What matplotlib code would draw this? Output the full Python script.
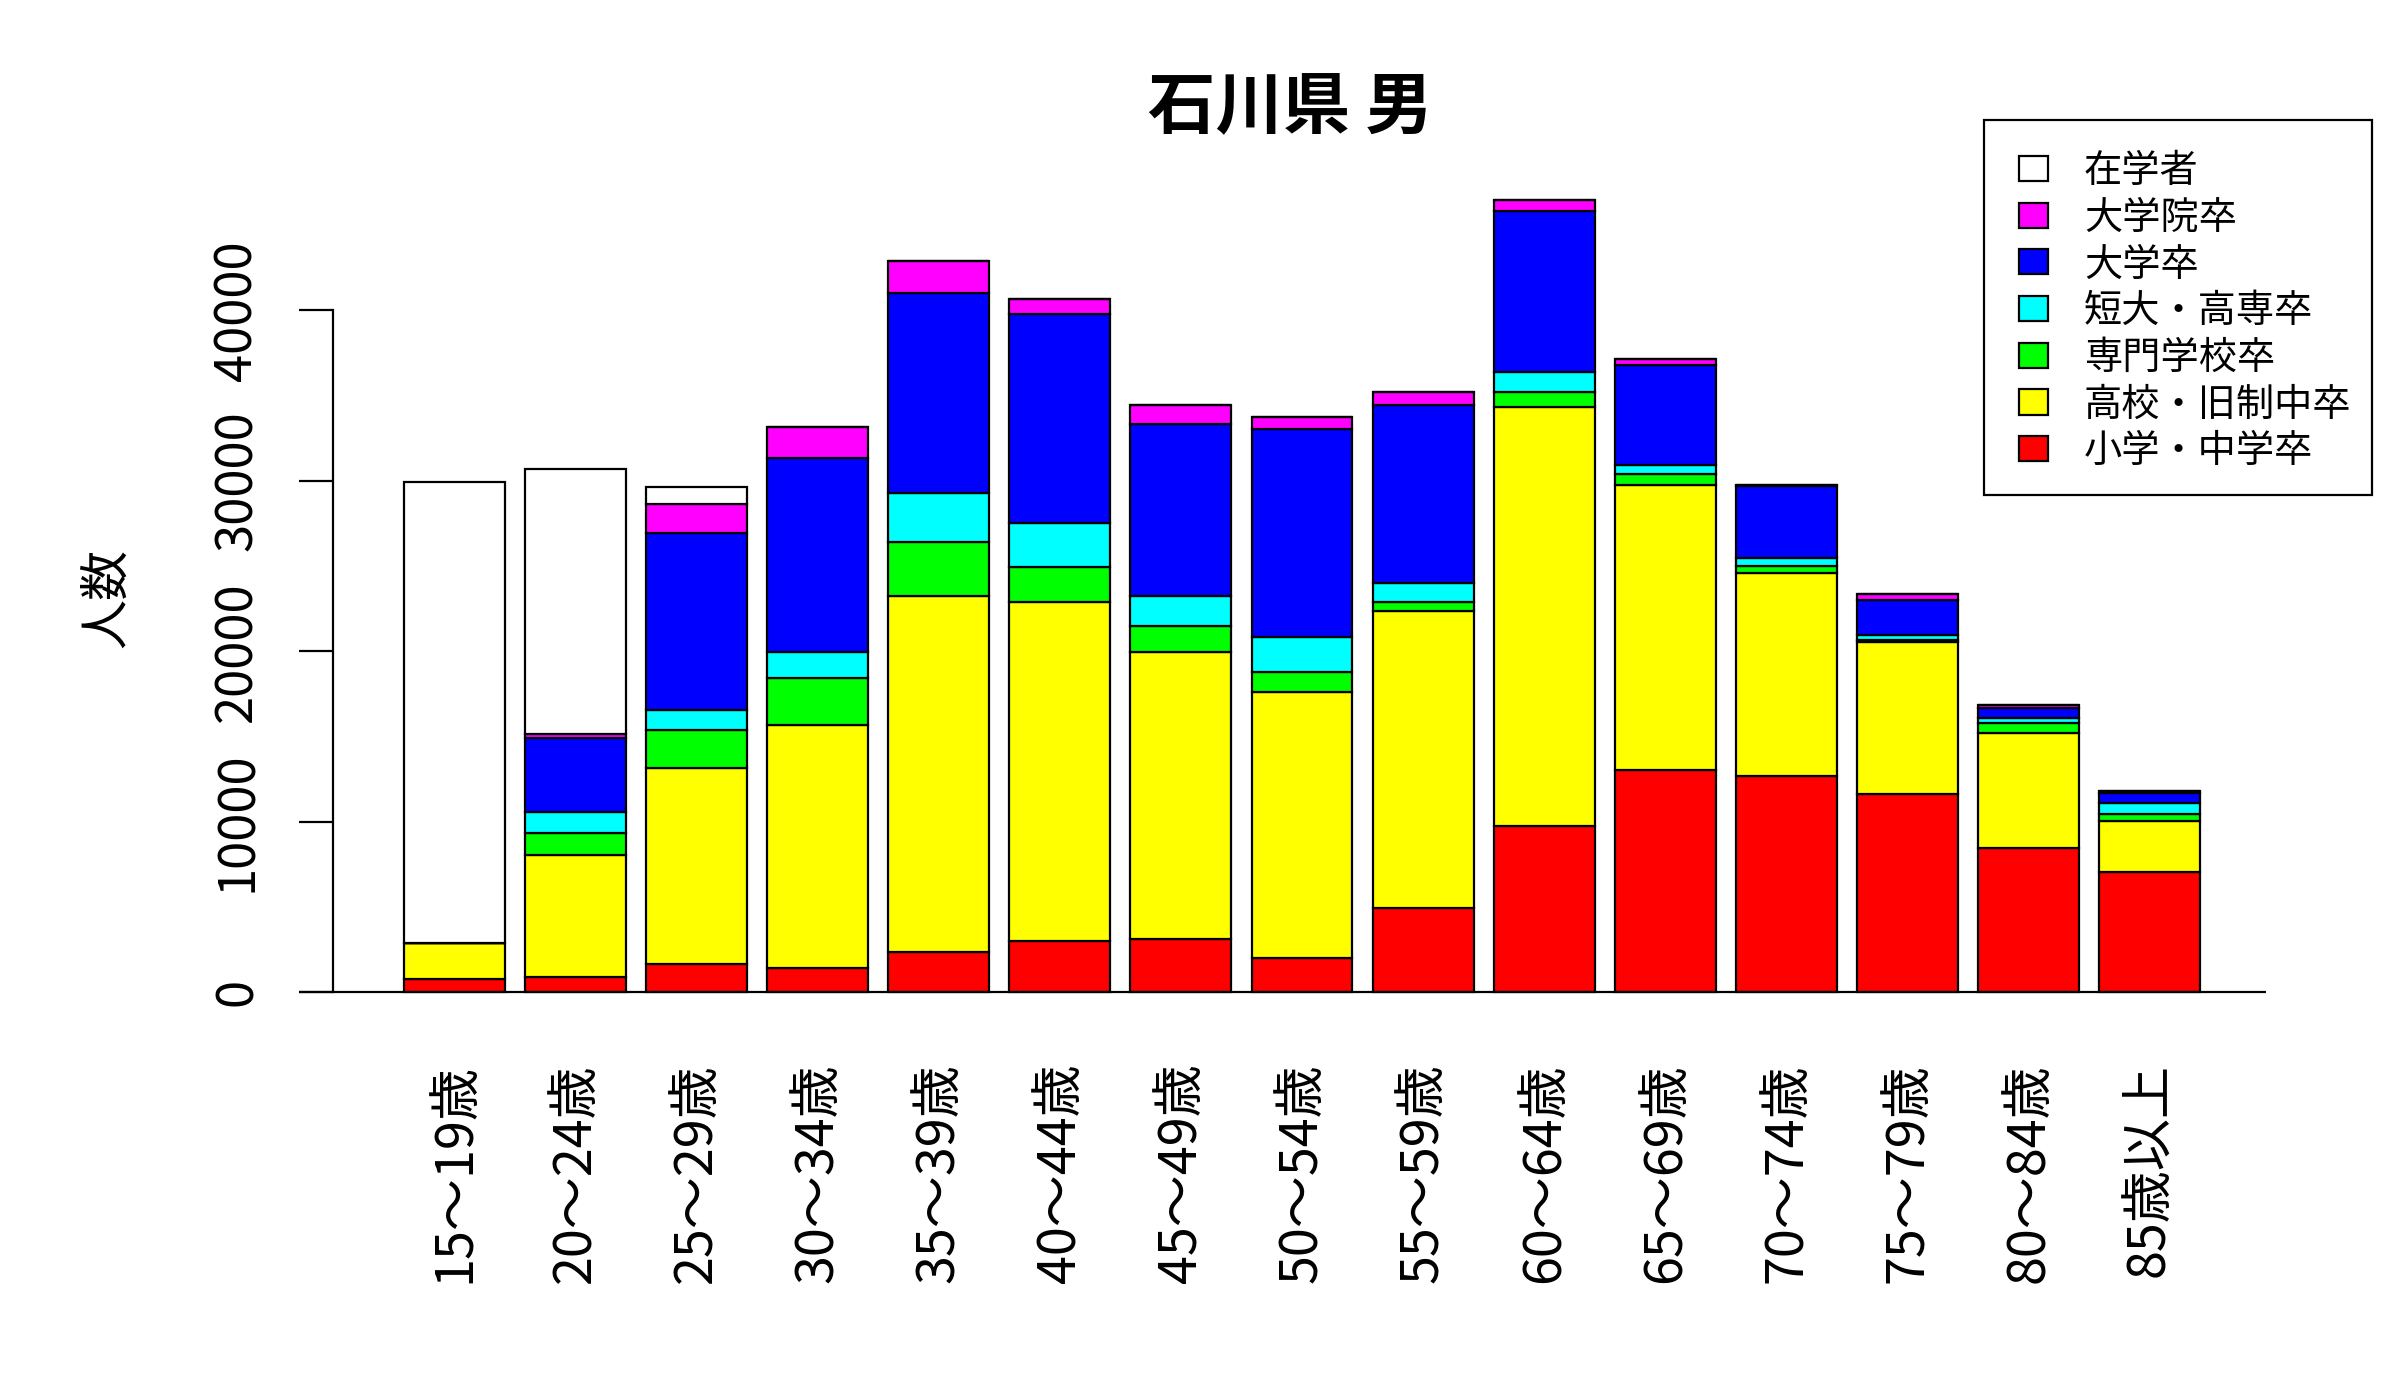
import matplotlib
matplotlib.use("Agg")
import matplotlib.pyplot as plt
from matplotlib.patches import Rectangle
import numpy as np

plt.rcParams['font.family'] = ['Noto Sans CJK JP', 'DejaVu Sans']

ages = ["15～19歳", "20～24歳", "25～29歳", "30～34歳", "35～39歳", "40～44歳",
        "45～49歳", "50～54歳", "55～59歳", "60～64歳", "65～69歳", "70～74歳",
        "75～79歳", "80～84歳", "85歳以上"]

elem_junior = [780, 910, 1660, 1400, 2380, 3000, 3100, 1990, 4920, 9740, 13030, 12710, 11630, 8440, 7070]
high_school = [2120, 7170, 11470, 14300, 20850, 19900, 16870, 15600, 17460, 24570, 16750, 11890, 8930, 6770, 3000]
vocational = [0, 1270, 2280, 2710, 3160, 2020, 1530, 1210, 490, 880, 620, 390, 90, 560, 360]
junior_college = [0, 1210, 1170, 1560, 2870, 2610, 1760, 2020, 1110, 1170, 550, 490, 300, 320, 650]
university = [0, 4330, 10360, 11340, 11760, 12250, 10100, 12220, 10490, 9480, 5830, 4200, 2050, 590, 620]
graduate = [0, 260, 1700, 1820, 1890, 910, 1110, 710, 720, 650, 390, 100, 360, 160, 90]
students = [27040, 15540, 1010, 0, 0, 0, 0, 0, 0, 0, 0, 0, 0, 0, 0]

series_names = ["小学・中学卒", "高校・旧制中卒", "専門学校卒", "短大・高専卒", "大学卒", "大学院卒", "在学者"]
series_vals = [elem_junior, high_school, vocational, junior_college, university, graduate, students]
series_colors = ["#FF0000", "#FFFF00", "#00FF00", "#00FFFF", "#0000FF", "#FF00FF", "#FFFFFF"]

W, H = 2400, 1400
fig = plt.figure(figsize=(24, 14), dpi=100)

# axes placement in pixels
left_px, right_px, top_px, bot_px = 299, 2266, 167, 1024
ax = fig.add_axes([left_px / W, 1 - bot_px / H, (right_px - left_px) / W, (bot_px - top_px) / H])

n = len(ages)
centers = 0.7 + 1.2 * np.arange(n)
bottom = np.zeros(n)
for vals, col in zip(series_vals, series_colors):
    v = np.array(vals, dtype=float)
    ax.bar(centers, v, width=1.0, bottom=bottom, color=col, edgecolor="black",
           linewidth=1.6, zorder=2)
    bottom += v

ax.set_xlim(-0.8406, 18.654)
ax.set_ylim(-1859, 48404)

for s in ["top", "right", "bottom"]:
    ax.spines[s].set_visible(False)
ax.spines["left"].set_position(("data", -0.5037))
ax.spines["left"].set_bounds(0, 40000)
ax.spines["left"].set_linewidth(1.6)
ax.axhline(0, color="black", linewidth=1.6, zorder=3)

ax.set_yticks([0, 10000, 20000, 30000, 40000])
ax.set_yticklabels(["0", "10000", "20000", "30000", "40000"], rotation=90, va="center")
ax.tick_params(axis="y", length=24.5, width=1.6, pad=25.5, labelsize=36.5)

ax.set_xticks(centers)
ax.set_xticklabels(ages, rotation=90, fontsize=37.5)
ax.tick_params(axis="x", length=0, pad=28)

fig.text(1290 / W, 1 - 109 / H, "石川県 男", ha="center", va="center",
         fontsize=48.5, fontweight="bold")
fig.text(107 / W, 1 - 598 / H, "人数", ha="center", va="center", rotation=90, fontsize=36)

# legend (drawn manually to match layout)
lx0, lx1, ly0, ly1 = 1984, 2372, 120, 495
fig.add_artist(Rectangle((lx0 / W, 1 - ly1 / H), (lx1 - lx0) / W, (ly1 - ly0) / H,
                         transform=fig.transFigure, facecolor="white", edgecolor="black",
                         linewidth=1.6, zorder=5))
leg_order = list(range(len(series_names)))[::-1]
for row, idx in enumerate(leg_order):
    cy = 168.5 + 46.7 * row
    fig.add_artist(Rectangle((2019 / W, 1 - (cy + 12.5) / H), 29 / W, 25 / H,
                             transform=fig.transFigure, facecolor=series_colors[idx],
                             edgecolor="black", linewidth=1.6, zorder=6))
    fig.text(2084 / W, 1 - (cy + 3) / H, series_names[idx], ha="left", va="center",
             fontsize=27.5, zorder=7)

fig.savefig("out.png", dpi=100, facecolor="white")
